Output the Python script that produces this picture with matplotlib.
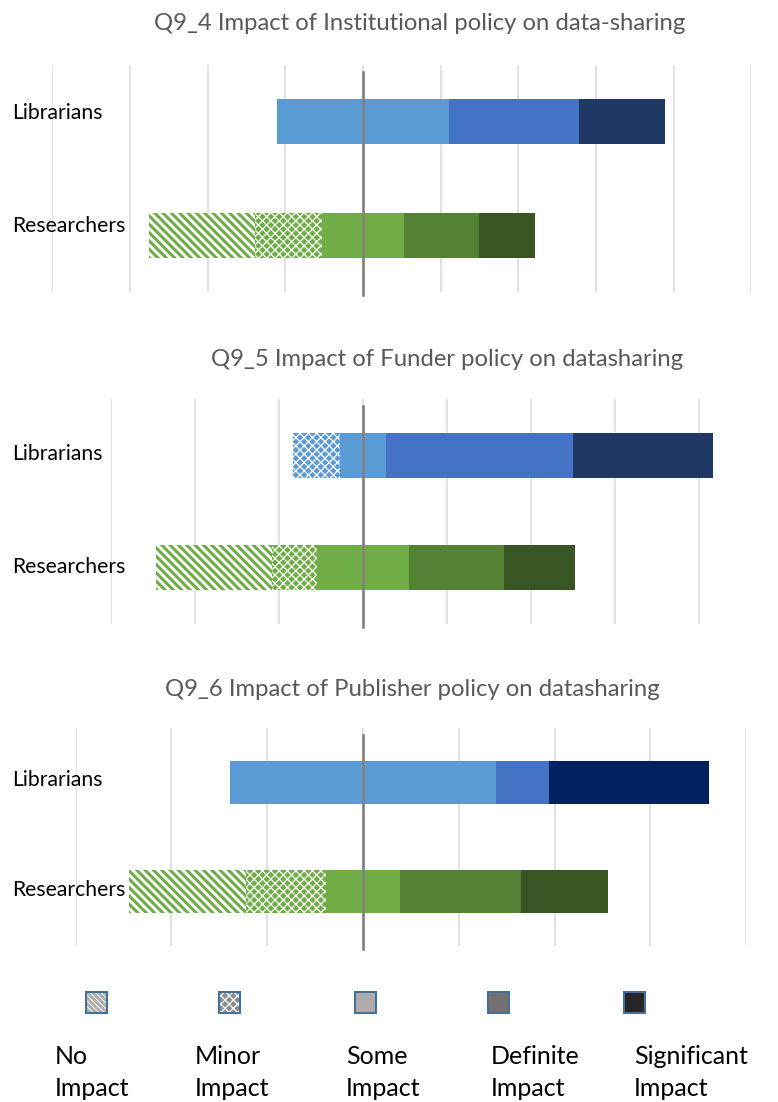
import matplotlib
matplotlib.use("Agg")
import matplotlib.pyplot as plt
from matplotlib.patches import Rectangle

plt.rcParams['font.family'] = ['Lato', 'DejaVu Sans']
plt.rcParams['hatch.linewidth'] = 2.2

W, H = 778, 1102

# data: share of answers (%) per impact level
levels = ['No\nImpact', 'Minor\nImpact', 'Some\nImpact', 'Definite\nImpact', 'Significant\nImpact']
groups = ['Librarians', 'Researchers']

titles = ['Q9_4 Impact of Institutional policy on data-sharing',
          'Q9_5 Impact of Funder policy on datasharing',
          'Q9_6 Impact of Publisher policy on datasharing']

lib_q94 = [0, 0, 44.4, 33.3, 22.2]
res_q94 = [27.4, 17.2, 21.2, 19.2, 14.6]
lib_q95 = [0, 11.1, 11.1, 44.4, 33.3]
res_q95 = [27.7, 10.8, 21.7, 22.7, 17.0]
lib_q96 = [0, 0, 55.6, 11.1, 33.3]
res_q96 = [24.3, 16.7, 15.5, 25.3, 18.0]

panels = [(lib_q94, res_q94), (lib_q95, res_q95), (lib_q96, res_q96)]

lib_colors = ['#5B9BD5', '#5B9BD5', '#5B9BD5', '#4472C4', '#203864']
res_colors = ['#70AD47', '#70AD47', '#70AD47', '#548235', '#375623']
sig_dark = ['#203864', '#203864', '#002060']

# layout in pixels: zero position, px per %, xlim, top/bottom of plot area, title centre/y
zero_px = 363
layout = [
    dict(scale=3.883, xlim=(-80, 100), ticks=range(-80, 101, 20), top=65, bottom=292,
         tx=420, ty=23, lab_dy=-9),
    dict(scale=4.2, xlim=(-60, 90), ticks=range(-60, 81, 20), top=399, bottom=624,
         tx=447, ty=359, lab_dy=-1),
    dict(scale=4.79, xlim=(-60, 80), ticks=range(-60, 81, 20), top=728, bottom=946,
         tx=412, ty=689, lab_dy=-2),
]

fig = plt.figure(figsize=(W / 100, H / 100), dpi=100)


def px_x(x):
    return x / W


def px_y(y):
    return 1 - y / H


def thin_hatch(patches, lw):
    # finer lattice for the "minor impact" pattern, if this matplotlib allows it
    for p in patches:
        if hasattr(p, 'set_hatch_linewidth'):
            p.set_hatch_linewidth(lw)


def draw_bar(ax, y, vals, colors):
    left = -(vals[0] + vals[1] + vals[2] / 2)
    for i, v in enumerate(vals):
        if v <= 0:
            continue
        if i == 0:
            ax.barh(y, v, left=left, height=0.4, color='white', edgecolor=colors[i],
                    hatch='\\\\\\\\', linewidth=0, zorder=2)
        elif i == 1:
            bars = ax.barh(y, v, left=left, height=0.4, color=colors[i], edgecolor='white',
                           hatch='xxxx', linewidth=0, zorder=2)
            thin_hatch(bars, 0.9)
        else:
            ax.barh(y, v, left=left, height=0.4, color=colors[i], linewidth=0, zorder=2)
        left += v


for k, (lib, res) in enumerate(panels):
    L = layout[k]
    x0 = zero_px + L['xlim'][0] * L['scale']
    x1 = zero_px + L['xlim'][1] * L['scale']
    ax = fig.add_axes([px_x(x0), px_y(L['bottom']), (x1 - x0) / W, (L['bottom'] - L['top']) / H])
    ax.set_xlim(*L['xlim'])
    ax.set_ylim(-0.5, 1.5)
    ax.set_xticks(list(L['ticks']))
    ax.set_yticks([])
    ax.tick_params(axis='x', length=0, labelbottom=False)
    ax.grid(axis='x', color='#D9D9D9', linewidth=1.1, zorder=0)
    ax.set_axisbelow(True)
    for s in ax.spines.values():
        s.set_visible(False)

    lc = lib_colors[:4] + [sig_dark[k]]
    draw_bar(ax, 1, lib, lc)
    draw_bar(ax, 0, res, res_colors)

    ax.axvline(0, ymin=-0.015, ymax=0.97, color='#808080', linewidth=1.9, zorder=5, clip_on=False)

    fig.text(px_x(L['tx']), px_y(L['ty']), titles[k], ha='center', va='center',
             fontsize=17.2, color='#595959')
    # category labels
    for g, yv in zip(groups, [1, 0]):
        ypx = L['top'] + (1.5 - yv) / 2 * (L['bottom'] - L['top']) + L['lab_dy']
        fig.text(px_x(12), px_y(ypx), g, ha='left', va='center', fontsize=15.2, color='black')

# legend
icon_x = [96, 229, 365, 499, 634]
icon_fill = ['white', '#A6A6A6', '#AFABAB', '#767171', '#262626']
label_x = [55, 195, 346, 491, 634]
sz = 21
for i in range(5):
    cx, cy = icon_x[i], 1002
    rect_args = ([px_x(cx - sz / 2), px_y(cy + sz / 2)], sz / W, sz / H)
    if i == 0:
        fig.add_artist(Rectangle(*rect_args, transform=fig.transFigure, facecolor='white',
                                 edgecolor='#B0B0B0', hatch='\\\\\\\\\\\\', linewidth=0))
    elif i == 1:
        r = Rectangle(*rect_args, transform=fig.transFigure, facecolor='#8C8C8C',
                      edgecolor='white', hatch='xxxx', linewidth=0)
        thin_hatch([r], 0.9)
        fig.add_artist(r)
    else:
        fig.add_artist(Rectangle(*rect_args, transform=fig.transFigure, facecolor=icon_fill[i],
                                 linewidth=0))
    fig.add_artist(Rectangle(*rect_args, transform=fig.transFigure, facecolor='none',
                             edgecolor='#41719C', linewidth=1.5))
    first, second = levels[i].split('\n')
    fig.text(px_x(label_x[i]), px_y(1057), first, ha='left', va='center', fontsize=18, color='black')
    fig.text(px_x(label_x[i]), px_y(1089), second, ha='left', va='center', fontsize=18, color='black')

fig.savefig('out.png', dpi=100, facecolor='white')
